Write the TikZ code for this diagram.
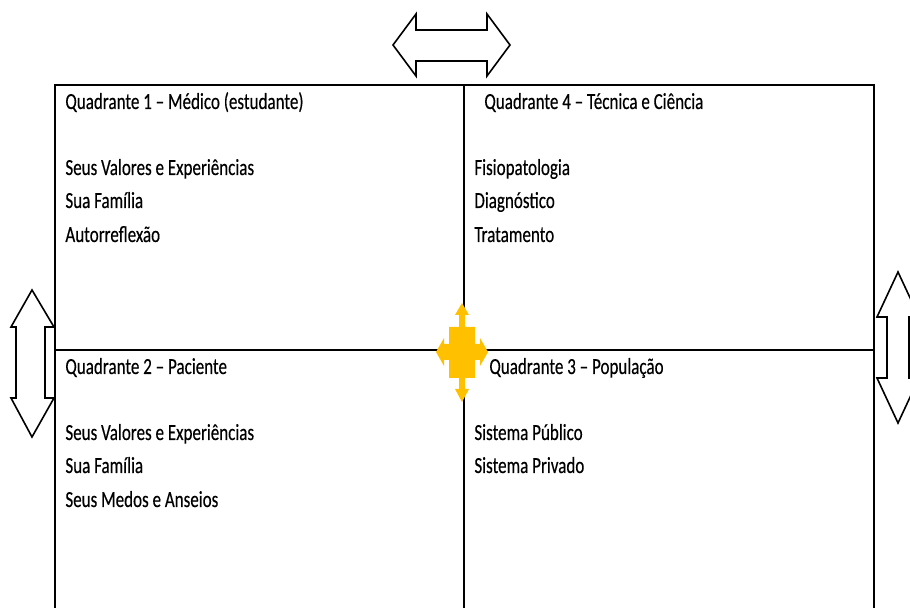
\documentclass[tikz,border=0pt]{standalone}
\usepackage{fontspec}
\setmainfont{Carlito}[FakeStretch=0.74,FakeBold=0.3]

\begin{document}
\begin{tikzpicture}[x=0.5pt,y=-0.5pt]
      \tikzset{frame/.style={draw, line width=1pt},
               txt/.style={anchor=base west, inner sep=0pt, font=\fontsize{11.5}{14}\selectfont},
               twoway/.style={draw, line width=0.8pt, fill=white, line join=miter},
               hub/.style={fill=hubcol, draw=none}}
      \definecolor{hubcol}{HTML}{FFC000}

      \useasboundingbox (0,0) rectangle (910,608);
      \clip (0,0) rectangle (910,608);

      \coordinate (TL) at (55,85);
      \coordinate (TR) at (874,85);
      \coordinate (TM) at (464,85);
      \coordinate (BL) at (55,620);
      \coordinate (BR) at (874,620);
      \coordinate (BM) at (464,620);
      \coordinate (ML) at (55,350);
      \coordinate (MR) at (874,350);

      % quadrant grid
      \draw[frame] (BL) -- (TL) -- (TR) -- (BR);
      \draw[frame] (TM) -- (BM);
      \draw[frame] (ML) -- (MR);

      % double arrows
      \draw[twoway] (393,45) -- (416,14) -- (416,30) -- (487,30) -- (487,14) -- (510,45)
            -- (487,76) -- (487,61) -- (416,61) -- (416,76) -- cycle;
      \draw[twoway] (32,290) -- (54,327) -- (45,327) -- (45,398) -- (54,398) -- (32,437)
            -- (11,398) -- (16,398) -- (16,327) -- (11,327) -- cycle;
      \draw[twoway] (898,272) -- (919,317) -- (909,317) -- (909,378) -- (919,378) -- (898,423)
            -- (877,378) -- (887,378) -- (887,317) -- (877,317) -- cycle;

      % centre arrow
      \fill[hub] (462,303) -- (469,315) -- (465,315) -- (465,327) -- (475,327) -- (475,344)
            -- (480,344) -- (480,338) -- (488,352) -- (480,366) -- (480,360) -- (475,360)
            -- (475,378) -- (465,378) -- (465,389) -- (469,389) -- (462,402) -- (455,389)
            -- (459,389) -- (459,378) -- (449,378) -- (449,360) -- (444,360) -- (444,366)
            -- (436,352) -- (444,338) -- (444,344) -- (449,344) -- (449,327) -- (459,327)
            -- (459,315) -- (455,315) -- cycle;

      % quadrante 1
      \node[txt] (q1) at (65,109) {Quadrante 1 -- Médico (estudante)};
      \node[txt] (q1a) at (65,175) {Seus Valores e Experiências};
      \node[txt] (q1b) at (65,208) {Sua Família};
      \node[txt] (q1c) at (65,242) {Autorreflexão};

      % quadrante 4
      \node[txt] (q4) at (484,109) {Quadrante 4 -- Técnica e Ciência};
      \node[txt] (q4a) at (474,175) {Fisiopatologia};
      \node[txt] (q4b) at (474,208) {Diagnóstico};
      \node[txt] (q4c) at (474,242) {Tratamento};

      % quadrante 2
      \node[txt] (q2) at (65,374) {Quadrante 2 -- Paciente};
      \node[txt] (q2a) at (65,440) {Seus Valores e Experiências};
      \node[txt] (q2b) at (65,473) {Sua Família};
      \node[txt] (q2c) at (65,507) {Seus Medos e Anseios};

      % quadrante 3
      \node[txt] (q3) at (489,374) {Quadrante 3 -- População};
      \node[txt] (q3a) at (474,440) {Sistema Público};
      \node[txt] (q3b) at (474,473) {Sistema Privado};
\end{tikzpicture}
\end{document}
